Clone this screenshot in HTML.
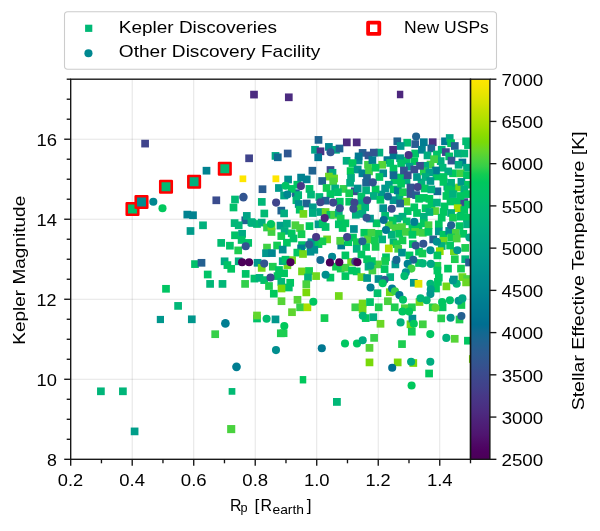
<!DOCTYPE html>
<html><head><meta charset="utf-8"><title>plot</title>
<style>html,body{margin:0;padding:0;background:#fff;}svg{display:block;will-change:transform;}text{font-family:"Liberation Sans",sans-serif;fill:#000000;}</style></head><body>
<svg width="600" height="531" viewBox="0 0 600 531">
<rect x="0" y="0" width="600" height="531" fill="#ffffff"/>
<defs><linearGradient id="cb" x1="0" y1="0" x2="0" y2="1"><stop offset="0.0000" stop-color="#ffe600"/><stop offset="0.0208" stop-color="#f4e500"/><stop offset="0.0417" stop-color="#e5e400"/><stop offset="0.0625" stop-color="#d5e300"/><stop offset="0.0833" stop-color="#c2e100"/><stop offset="0.1042" stop-color="#b1e000"/><stop offset="0.1250" stop-color="#a0de00"/><stop offset="0.1458" stop-color="#8bdc00"/><stop offset="0.1667" stop-color="#79d909"/><stop offset="0.1875" stop-color="#66d628"/><stop offset="0.2083" stop-color="#4ed33b"/><stop offset="0.2292" stop-color="#36d048"/><stop offset="0.2500" stop-color="#12cc52"/><stop offset="0.2708" stop-color="#00c85d"/><stop offset="0.2917" stop-color="#00c465"/><stop offset="0.3125" stop-color="#00c06b"/><stop offset="0.3333" stop-color="#00ba73"/><stop offset="0.3542" stop-color="#00b678"/><stop offset="0.3750" stop-color="#00b17c"/><stop offset="0.3958" stop-color="#00ac81"/><stop offset="0.4167" stop-color="#00a784"/><stop offset="0.4375" stop-color="#00a287"/><stop offset="0.4583" stop-color="#009d8a"/><stop offset="0.4792" stop-color="#00988c"/><stop offset="0.5000" stop-color="#00938d"/><stop offset="0.5208" stop-color="#008d8f"/><stop offset="0.5417" stop-color="#008990"/><stop offset="0.5625" stop-color="#008490"/><stop offset="0.5833" stop-color="#007e91"/><stop offset="0.6042" stop-color="#007991"/><stop offset="0.6250" stop-color="#007491"/><stop offset="0.6458" stop-color="#006e91"/><stop offset="0.6667" stop-color="#126991"/><stop offset="0.6875" stop-color="#1d6491"/><stop offset="0.7083" stop-color="#275e91"/><stop offset="0.7292" stop-color="#2e5990"/><stop offset="0.7500" stop-color="#34538f"/><stop offset="0.7708" stop-color="#3a4c8e"/><stop offset="0.7917" stop-color="#3e468c"/><stop offset="0.8125" stop-color="#42408a"/><stop offset="0.8333" stop-color="#473887"/><stop offset="0.8542" stop-color="#493284"/><stop offset="0.8750" stop-color="#4c2b80"/><stop offset="0.8958" stop-color="#4d237a"/><stop offset="0.9167" stop-color="#4e1c75"/><stop offset="0.9375" stop-color="#4f146f"/><stop offset="0.9583" stop-color="#4e0966"/><stop offset="0.9792" stop-color="#4d005f"/><stop offset="1.0000" stop-color="#4b0057"/></linearGradient>
<clipPath id="ax"><rect x="70.7" y="79.2" width="399.8" height="380.1"/></clipPath></defs>
<g stroke="#000000" stroke-opacity="0.105" stroke-width="1"><line x1="132.21" y1="79.2" x2="132.21" y2="459.3"/><line x1="193.72" y1="79.2" x2="193.72" y2="459.3"/><line x1="255.22" y1="79.2" x2="255.22" y2="459.3"/><line x1="316.73" y1="79.2" x2="316.73" y2="459.3"/><line x1="378.24" y1="79.2" x2="378.24" y2="459.3"/><line x1="439.75" y1="79.2" x2="439.75" y2="459.3"/><line x1="70.7" y1="379.28" x2="470.5" y2="379.28"/><line x1="70.7" y1="299.26" x2="470.5" y2="299.26"/><line x1="70.7" y1="219.24" x2="470.5" y2="219.24"/><line x1="70.7" y1="139.22" x2="470.5" y2="139.22"/></g>
<g clip-path="url(#ax)">
<rect x="396.65" y="173.65" width="7.7" height="7.7" fill="#00c660"/>
<rect x="391.65" y="223.65" width="7.7" height="7.7" fill="#49d23e"/>
<rect x="389.65" y="151.65" width="7.7" height="7.7" fill="#007891"/>
<rect x="402.65" y="156.65" width="7.7" height="7.7" fill="#00c366"/>
<rect x="426.65" y="160.65" width="7.7" height="7.7" fill="#40d143"/>
<rect x="432.65" y="172.65" width="7.7" height="7.7" fill="#00c660"/>
<rect x="390.65" y="176.65" width="7.7" height="7.7" fill="#00c660"/>
<rect x="402.65" y="176.65" width="7.7" height="7.7" fill="#00b17c"/>
<rect x="417.65" y="178.65" width="7.7" height="7.7" fill="#00b17c"/>
<rect x="449.65" y="184.65" width="7.7" height="7.7" fill="#00c660"/>
<rect x="377.65" y="190.65" width="7.7" height="7.7" fill="#00978c"/>
<rect x="395.65" y="193.65" width="7.7" height="7.7" fill="#00b17c"/>
<rect x="446.65" y="197.65" width="7.7" height="7.7" fill="#00c660"/>
<rect x="427.65" y="200.65" width="7.7" height="7.7" fill="#00c660"/>
<rect x="414.65" y="222.65" width="7.7" height="7.7" fill="#00c660"/>
<rect x="241.45" y="216.45" width="7.7" height="7.7" fill="#246091"/>
<rect x="191.15" y="260.25" width="7.7" height="7.7" fill="#00c06a"/>
<rect x="220.75" y="257.45" width="7.7" height="7.7" fill="#00aa82"/>
<rect x="234.85" y="257.45" width="7.7" height="7.7" fill="#00b17c"/>
<rect x="253.15" y="314.65" width="7.7" height="7.7" fill="#00c267"/>
<rect x="271.65" y="152.05" width="7.7" height="7.7" fill="#00a784"/>
<rect x="311.15" y="145.95" width="7.7" height="7.7" fill="#00a486"/>
<rect x="332.15" y="145.95" width="7.7" height="7.7" fill="#00ad80"/>
<rect x="354.75" y="156.65" width="7.7" height="7.7" fill="#00918e"/>
<rect x="326.65" y="166.15" width="7.7" height="7.7" fill="#3e478d"/>
<rect x="293.45" y="180.85" width="7.7" height="7.7" fill="#00c660"/>
<rect x="280.25" y="191.65" width="7.7" height="7.7" fill="#00a784"/>
<rect x="292.05" y="189.35" width="7.7" height="7.7" fill="#1f6391"/>
<rect x="277.45" y="206.75" width="7.7" height="7.7" fill="#1f6391"/>
<rect x="350.95" y="187.45" width="7.7" height="7.7" fill="#3a4c8e"/>
<rect x="335.95" y="197.85" width="7.7" height="7.7" fill="#00c660"/>
<rect x="443.45" y="182.75" width="7.7" height="7.7" fill="#00978c"/>
<rect x="453.85" y="197.85" width="7.7" height="7.7" fill="#00c660"/>
<rect x="457.55" y="205.35" width="7.7" height="7.7" fill="#00978c"/>
<rect x="307.55" y="238.35" width="7.7" height="7.7" fill="#00978c"/>
<rect x="288.25" y="256.25" width="7.7" height="7.7" fill="#71d819"/>
<rect x="283.55" y="261.45" width="7.7" height="7.7" fill="#6ed81f"/>
<rect x="337.35" y="241.65" width="7.7" height="7.7" fill="#007d91"/>
<rect x="347.25" y="258.15" width="7.7" height="7.7" fill="#6ed81f"/>
<rect x="326.55" y="273.75" width="7.7" height="7.7" fill="#00c660"/>
<rect x="408.95" y="240.25" width="7.7" height="7.7" fill="#00c660"/>
<rect x="391.55" y="260.55" width="7.7" height="7.7" fill="#00978c"/>
<rect x="450.05" y="247.35" width="7.7" height="7.7" fill="#6ed81f"/>
<rect x="361.85" y="314.25" width="7.7" height="7.7" fill="#00c85b"/>
<rect x="385.95" y="288.35" width="7.7" height="7.7" fill="#71d819"/>
<rect x="400.95" y="304.35" width="7.7" height="7.7" fill="#49d23e"/>
<rect x="415.65" y="298.15" width="7.7" height="7.7" fill="#71d819"/>
<rect x="406.65" y="320.45" width="7.7" height="7.7" fill="#71d819"/>
<rect x="432.15" y="284.65" width="7.7" height="7.7" fill="#00c660"/>
<rect x="455.65" y="315.65" width="7.7" height="7.7" fill="#1ccd50"/>
<rect x="409.45" y="359.15" width="7.7" height="7.7" fill="#79d909"/>
<rect x="141.25" y="139.75" width="7.7" height="7.7" fill="#40448c"/>
<rect x="162.15" y="284.95" width="7.7" height="7.7" fill="#00c563"/>
<rect x="156.80" y="315.90" width="7.2" height="7.2" fill="#00978c"/>
<rect x="97.05" y="387.45" width="7.7" height="7.7" fill="#00b579"/>
<rect x="119.05" y="387.45" width="7.7" height="7.7" fill="#00b579"/>
<rect x="130.75" y="427.55" width="7.7" height="7.7" fill="#009e89"/>
<rect x="250.15" y="90.75" width="7.7" height="7.7" fill="#4c2b80"/>
<rect x="245.25" y="154.45" width="7.7" height="7.7" fill="#40448c"/>
<rect x="202.65" y="166.85" width="7.7" height="7.7" fill="#008290"/>
<rect x="239.55" y="175.45" width="6.7" height="6.7" fill="#ffe600"/>
<rect x="258.65" y="185.35" width="7.7" height="7.7" fill="#2a5c91"/>
<rect x="212.45" y="196.45" width="7.7" height="7.7" fill="#3a4c8e"/>
<rect x="231.15" y="195.65" width="7.7" height="7.7" fill="#00ba73"/>
<rect x="229.65" y="203.65" width="7.7" height="7.7" fill="#00c06a"/>
<rect x="257.95" y="198.05" width="7.7" height="7.7" fill="#00b777"/>
<rect x="183.45" y="210.75" width="7.7" height="7.7" fill="#008290"/>
<rect x="189.15" y="211.35" width="7.7" height="7.7" fill="#008290"/>
<rect x="199.15" y="221.45" width="7.7" height="7.7" fill="#00b17c"/>
<rect x="186.65" y="227.15" width="7.7" height="7.7" fill="#009c8a"/>
<rect x="260.45" y="209.65" width="7.7" height="7.7" fill="#00ba73"/>
<rect x="242.95" y="212.05" width="7.7" height="7.7" fill="#00a486"/>
<rect x="230.75" y="219.25" width="7.7" height="7.7" fill="#00b777"/>
<rect x="234.85" y="221.45" width="7.7" height="7.7" fill="#00b777"/>
<rect x="247.55" y="218.25" width="7.7" height="7.7" fill="#00b17c"/>
<rect x="253.15" y="220.15" width="7.7" height="7.7" fill="#00bc70"/>
<rect x="257.85" y="218.75" width="7.7" height="7.7" fill="#00ad80"/>
<rect x="263.15" y="223.65" width="7.7" height="7.7" fill="#31cf4a"/>
<rect x="267.65" y="228.15" width="7.7" height="7.7" fill="#40d143"/>
<rect x="231.15" y="231.45" width="7.7" height="7.7" fill="#00c267"/>
<rect x="238.25" y="229.95" width="7.7" height="7.7" fill="#00aa82"/>
<rect x="237.75" y="236.15" width="7.7" height="7.7" fill="#00c267"/>
<rect x="244.35" y="239.05" width="7.7" height="7.7" fill="#00c267"/>
<rect x="217.35" y="239.05" width="7.7" height="7.7" fill="#00bc70"/>
<rect x="226.05" y="241.85" width="7.7" height="7.7" fill="#00c366"/>
<rect x="234.35" y="246.55" width="7.7" height="7.7" fill="#1ccd50"/>
<rect x="263.15" y="243.75" width="7.7" height="7.7" fill="#40d143"/>
<rect x="262.15" y="249.35" width="7.7" height="7.7" fill="#00978c"/>
<rect x="197.65" y="258.95" width="7.7" height="7.7" fill="#246091"/>
<rect x="223.55" y="261.25" width="7.7" height="7.7" fill="#00c267"/>
<rect x="227.35" y="264.95" width="7.7" height="7.7" fill="#00c660"/>
<rect x="241.85" y="270.05" width="7.7" height="7.7" fill="#00c366"/>
<rect x="253.75" y="258.95" width="7.7" height="7.7" fill="#00978c"/>
<rect x="257.85" y="264.05" width="7.7" height="7.7" fill="#71d819"/>
<rect x="203.85" y="270.65" width="7.7" height="7.7" fill="#00c366"/>
<rect x="206.25" y="280.05" width="7.7" height="7.7" fill="#00b777"/>
<rect x="218.65" y="280.05" width="7.7" height="7.7" fill="#00b777"/>
<rect x="241.25" y="280.05" width="7.7" height="7.7" fill="#31cf4a"/>
<rect x="250.55" y="274.75" width="7.7" height="7.7" fill="#00c06a"/>
<rect x="255.65" y="274.05" width="7.7" height="7.7" fill="#00b17c"/>
<rect x="260.35" y="276.25" width="7.7" height="7.7" fill="#00c06a"/>
<rect x="174.25" y="302.05" width="7.7" height="7.7" fill="#00b777"/>
<rect x="187.95" y="315.45" width="7.7" height="7.7" fill="#00978c"/>
<rect x="211.35" y="330.35" width="7.7" height="7.7" fill="#36d048"/>
<rect x="253.15" y="311.65" width="7.7" height="7.7" fill="#62d62c"/>
<rect x="228.65" y="388.05" width="6.7" height="6.7" fill="#00ba73"/>
<rect x="227.15" y="425.05" width="8.1" height="8.1" fill="#49d23e"/>
<rect x="284.95" y="93.45" width="7.7" height="7.7" fill="#4c2b80"/>
<rect x="396.90" y="90.75" width="6.4" height="7.5" fill="#4d277d"/>
<rect x="273.95" y="153.45" width="7.7" height="7.7" fill="#126991"/>
<rect x="283.85" y="149.65" width="7.7" height="7.7" fill="#2f5790"/>
<rect x="308.55" y="166.85" width="7.7" height="7.7" fill="#1f6391"/>
<rect x="272.50" y="175.40" width="6.8" height="6.8" fill="#ffe600"/>
<rect x="284.25" y="175.65" width="7.7" height="7.7" fill="#008e8e"/>
<rect x="297.25" y="173.75" width="7.7" height="7.7" fill="#008290"/>
<rect x="302.85" y="175.55" width="7.7" height="7.7" fill="#008290"/>
<rect x="314.65" y="136.05" width="7.7" height="7.7" fill="#1f6391"/>
<rect x="316.65" y="147.45" width="7.7" height="7.7" fill="#493385"/>
<rect x="314.35" y="153.45" width="7.7" height="7.7" fill="#007891"/>
<rect x="342.95" y="138.55" width="7.7" height="7.7" fill="#4c2b80"/>
<rect x="352.85" y="138.55" width="7.7" height="7.7" fill="#4c2b80"/>
<rect x="325.05" y="143.05" width="7.7" height="7.7" fill="#008790"/>
<rect x="335.65" y="144.65" width="7.7" height="7.7" fill="#1f6391"/>
<rect x="358.75" y="149.05" width="7.7" height="7.7" fill="#246091"/>
<rect x="354.75" y="152.55" width="7.7" height="7.7" fill="#007891"/>
<rect x="364.65" y="151.55" width="7.7" height="7.7" fill="#325490"/>
<rect x="342.75" y="156.95" width="7.7" height="7.7" fill="#00ad80"/>
<rect x="348.65" y="159.25" width="7.7" height="7.7" fill="#00c85b"/>
<rect x="364.15" y="160.95" width="7.7" height="7.7" fill="#40d143"/>
<rect x="346.75" y="167.25" width="7.7" height="7.7" fill="#00cb56"/>
<rect x="353.85" y="165.65" width="7.7" height="7.7" fill="#00978c"/>
<rect x="358.55" y="169.45" width="7.7" height="7.7" fill="#008091"/>
<rect x="365.15" y="167.55" width="7.7" height="7.7" fill="#40d143"/>
<rect x="363.15" y="174.15" width="7.7" height="7.7" fill="#1f6391"/>
<rect x="347.15" y="174.15" width="7.7" height="7.7" fill="#00ad80"/>
<rect x="328.65" y="168.95" width="7.7" height="7.7" fill="#00ad80"/>
<rect x="325.05" y="172.75" width="7.7" height="7.7" fill="#6ad724"/>
<rect x="330.25" y="174.65" width="7.7" height="7.7" fill="#6ad724"/>
<rect x="318.35" y="177.15" width="7.7" height="7.7" fill="#1f6391"/>
<rect x="393.45" y="137.45" width="7.7" height="7.7" fill="#1f6391"/>
<rect x="403.35" y="138.85" width="7.7" height="7.7" fill="#00bc70"/>
<rect x="411.35" y="140.25" width="7.7" height="7.7" fill="#2b5b91"/>
<rect x="396.75" y="142.15" width="7.7" height="7.7" fill="#00978c"/>
<rect x="389.25" y="145.95" width="7.7" height="7.7" fill="#4b2e82"/>
<rect x="375.55" y="148.75" width="7.7" height="7.7" fill="#00b17c"/>
<rect x="369.95" y="148.75" width="7.7" height="7.7" fill="#325490"/>
<rect x="411.35" y="149.65" width="7.7" height="7.7" fill="#00c366"/>
<rect x="396.25" y="154.35" width="7.7" height="7.7" fill="#00978c"/>
<rect x="368.55" y="156.25" width="7.7" height="7.7" fill="#007d91"/>
<rect x="383.55" y="156.25" width="7.7" height="7.7" fill="#007891"/>
<rect x="386.35" y="159.15" width="7.7" height="7.7" fill="#00c06a"/>
<rect x="397.25" y="159.55" width="7.7" height="7.7" fill="#00c366"/>
<rect x="410.45" y="157.25" width="7.7" height="7.7" fill="#00c85b"/>
<rect x="378.35" y="160.95" width="7.7" height="7.7" fill="#56d436"/>
<rect x="371.75" y="163.85" width="7.7" height="7.7" fill="#00c85b"/>
<rect x="389.65" y="164.75" width="7.7" height="7.7" fill="#00c660"/>
<rect x="405.65" y="162.85" width="7.7" height="7.7" fill="#00a188"/>
<rect x="400.05" y="166.65" width="7.7" height="7.7" fill="#325490"/>
<rect x="410.45" y="165.65" width="7.7" height="7.7" fill="#3a4c8e"/>
<rect x="379.35" y="169.45" width="7.7" height="7.7" fill="#008e8e"/>
<rect x="389.65" y="171.35" width="7.7" height="7.7" fill="#126991"/>
<rect x="403.85" y="171.35" width="7.7" height="7.7" fill="#3a4c8e"/>
<rect x="375.55" y="173.15" width="7.7" height="7.7" fill="#00c660"/>
<rect x="413.15" y="173.15" width="7.7" height="7.7" fill="#00978c"/>
<rect x="419.95" y="138.35" width="7.7" height="7.7" fill="#007d91"/>
<rect x="428.85" y="138.35" width="7.7" height="7.7" fill="#4b2e82"/>
<rect x="441.15" y="137.45" width="7.7" height="7.7" fill="#007891"/>
<rect x="445.85" y="134.15" width="7.7" height="7.7" fill="#00a784"/>
<rect x="447.25" y="139.35" width="7.7" height="7.7" fill="#00c85b"/>
<rect x="450.95" y="142.15" width="7.7" height="7.7" fill="#246091"/>
<rect x="462.25" y="137.45" width="7.7" height="7.7" fill="#00bc70"/>
<rect x="464.15" y="141.25" width="7.7" height="7.7" fill="#00bc70"/>
<rect x="427.45" y="144.55" width="7.7" height="7.7" fill="#1f6391"/>
<rect x="418.05" y="145.95" width="7.7" height="7.7" fill="#008290"/>
<rect x="437.85" y="145.95" width="7.7" height="7.7" fill="#00b777"/>
<rect x="442.05" y="148.25" width="7.7" height="7.7" fill="#3e478d"/>
<rect x="423.65" y="151.55" width="7.7" height="7.7" fill="#00ad80"/>
<rect x="433.05" y="150.65" width="7.7" height="7.7" fill="#00c366"/>
<rect x="453.85" y="149.65" width="7.7" height="7.7" fill="#00ad80"/>
<rect x="460.45" y="149.65" width="7.7" height="7.7" fill="#00b777"/>
<rect x="445.35" y="152.55" width="7.7" height="7.7" fill="#00c267"/>
<rect x="447.65" y="156.75" width="7.7" height="7.7" fill="#325490"/>
<rect x="458.55" y="158.65" width="7.7" height="7.7" fill="#007891"/>
<rect x="436.85" y="157.25" width="7.7" height="7.7" fill="#00b17c"/>
<rect x="430.25" y="155.35" width="7.7" height="7.7" fill="#40d143"/>
<rect x="421.35" y="161.95" width="7.7" height="7.7" fill="#00ad80"/>
<rect x="438.75" y="163.85" width="7.7" height="7.7" fill="#00b777"/>
<rect x="454.75" y="160.95" width="7.7" height="7.7" fill="#00ad80"/>
<rect x="463.15" y="163.85" width="7.7" height="7.7" fill="#00ad80"/>
<rect x="432.15" y="166.65" width="7.7" height="7.7" fill="#007d91"/>
<rect x="419.95" y="167.55" width="7.7" height="7.7" fill="#24ce4e"/>
<rect x="425.55" y="168.55" width="7.7" height="7.7" fill="#00a188"/>
<rect x="449.15" y="169.45" width="7.7" height="7.7" fill="#00c85b"/>
<rect x="456.65" y="169.45" width="7.7" height="7.7" fill="#40d143"/>
<rect x="444.35" y="167.55" width="7.7" height="7.7" fill="#00ad80"/>
<rect x="463.15" y="171.35" width="7.7" height="7.7" fill="#00c660"/>
<rect x="421.75" y="173.15" width="7.7" height="7.7" fill="#00ad80"/>
<rect x="439.65" y="173.15" width="7.7" height="7.7" fill="#00c660"/>
<rect x="416.15" y="161.95" width="7.7" height="7.7" fill="#3a4c8e"/>
<rect x="275.05" y="184.15" width="7.7" height="7.7" fill="#009c8a"/>
<rect x="287.85" y="185.05" width="7.7" height="7.7" fill="#00c660"/>
<rect x="305.65" y="185.05" width="7.7" height="7.7" fill="#00c267"/>
<rect x="307.15" y="190.75" width="7.7" height="7.7" fill="#00b777"/>
<rect x="294.35" y="191.25" width="7.7" height="7.7" fill="#00b777"/>
<rect x="292.55" y="196.35" width="7.7" height="7.7" fill="#00b777"/>
<rect x="294.85" y="200.15" width="7.7" height="7.7" fill="#008e8e"/>
<rect x="302.85" y="199.65" width="7.7" height="7.7" fill="#1f6391"/>
<rect x="308.95" y="203.45" width="7.7" height="7.7" fill="#009c8a"/>
<rect x="295.85" y="205.85" width="7.7" height="7.7" fill="#00c267"/>
<rect x="299.55" y="210.05" width="7.7" height="7.7" fill="#71d819"/>
<rect x="308.95" y="209.15" width="7.7" height="7.7" fill="#00ad80"/>
<rect x="316.65" y="208.15" width="7.7" height="7.7" fill="#00a784"/>
<rect x="280.25" y="209.55" width="7.7" height="7.7" fill="#00ad80"/>
<rect x="276.65" y="221.75" width="7.7" height="7.7" fill="#009e89"/>
<rect x="283.05" y="219.75" width="7.7" height="7.7" fill="#00ad80"/>
<rect x="291.55" y="221.35" width="7.7" height="7.7" fill="#49d23e"/>
<rect x="296.15" y="224.15" width="7.7" height="7.7" fill="#49d23e"/>
<rect x="305.65" y="222.25" width="7.7" height="7.7" fill="#00c660"/>
<rect x="314.65" y="220.45" width="7.7" height="7.7" fill="#009c8a"/>
<rect x="315.55" y="193.15" width="7.7" height="7.7" fill="#00b777"/>
<rect x="248.45" y="219.15" width="7.7" height="7.7" fill="#00b17c"/>
<rect x="329.35" y="177.55" width="7.7" height="7.7" fill="#49d23e"/>
<rect x="322.75" y="184.15" width="7.7" height="7.7" fill="#12cc52"/>
<rect x="331.25" y="184.65" width="7.7" height="7.7" fill="#00ad80"/>
<rect x="339.65" y="185.05" width="7.7" height="7.7" fill="#31cf4a"/>
<rect x="346.25" y="178.95" width="7.7" height="7.7" fill="#00ad80"/>
<rect x="353.85" y="184.65" width="7.7" height="7.7" fill="#00918e"/>
<rect x="362.25" y="178.95" width="7.7" height="7.7" fill="#1f6391"/>
<rect x="362.25" y="186.55" width="7.7" height="7.7" fill="#00b17c"/>
<rect x="326.55" y="190.25" width="7.7" height="7.7" fill="#00c660"/>
<rect x="334.05" y="188.35" width="7.7" height="7.7" fill="#00c366"/>
<rect x="345.35" y="189.35" width="7.7" height="7.7" fill="#12cc52"/>
<rect x="357.55" y="192.65" width="7.7" height="7.7" fill="#00c267"/>
<rect x="321.75" y="196.85" width="7.7" height="7.7" fill="#1f6391"/>
<rect x="357.55" y="199.65" width="7.7" height="7.7" fill="#00ad80"/>
<rect x="345.35" y="197.85" width="7.7" height="7.7" fill="#00c660"/>
<rect x="355.65" y="204.35" width="7.7" height="7.7" fill="#40d143"/>
<rect x="361.35" y="203.45" width="7.7" height="7.7" fill="#00b17c"/>
<rect x="321.75" y="208.15" width="7.7" height="7.7" fill="#6ad724"/>
<rect x="326.55" y="210.95" width="7.7" height="7.7" fill="#00c267"/>
<rect x="330.25" y="210.95" width="7.7" height="7.7" fill="#40d143"/>
<rect x="334.95" y="209.15" width="7.7" height="7.7" fill="#00b17c"/>
<rect x="351.95" y="210.95" width="7.7" height="7.7" fill="#00b17c"/>
<rect x="358.55" y="210.05" width="7.7" height="7.7" fill="#00ad80"/>
<rect x="336.85" y="214.75" width="7.7" height="7.7" fill="#12cc52"/>
<rect x="334.95" y="220.45" width="7.7" height="7.7" fill="#00c267"/>
<rect x="341.55" y="219.45" width="7.7" height="7.7" fill="#00c660"/>
<rect x="318.95" y="219.45" width="7.7" height="7.7" fill="#00c267"/>
<rect x="321.75" y="223.15" width="7.7" height="7.7" fill="#00c267"/>
<rect x="350.05" y="225.15" width="7.7" height="7.7" fill="#008e8e"/>
<rect x="338.75" y="224.15" width="7.7" height="7.7" fill="#00c660"/>
<rect x="371.75" y="185.55" width="7.7" height="7.7" fill="#00c85b"/>
<rect x="369.95" y="192.15" width="7.7" height="7.7" fill="#00ad80"/>
<rect x="376.55" y="195.95" width="7.7" height="7.7" fill="#00c660"/>
<rect x="381.25" y="184.65" width="7.7" height="7.7" fill="#00978c"/>
<rect x="384.95" y="180.85" width="7.7" height="7.7" fill="#009c8a"/>
<rect x="389.65" y="185.55" width="7.7" height="7.7" fill="#00c660"/>
<rect x="393.95" y="186.55" width="7.7" height="7.7" fill="#008091"/>
<rect x="397.25" y="179.95" width="7.7" height="7.7" fill="#00c85b"/>
<rect x="399.15" y="188.35" width="7.7" height="7.7" fill="#12cc52"/>
<rect x="406.65" y="183.65" width="7.7" height="7.7" fill="#325490"/>
<rect x="406.65" y="190.25" width="7.7" height="7.7" fill="#325490"/>
<rect x="412.25" y="191.25" width="7.7" height="7.7" fill="#2a5c91"/>
<rect x="415.15" y="194.95" width="7.7" height="7.7" fill="#00c660"/>
<rect x="389.65" y="196.35" width="7.7" height="7.7" fill="#00978c"/>
<rect x="402.45" y="197.85" width="7.7" height="7.7" fill="#6ad724"/>
<rect x="396.25" y="199.65" width="7.7" height="7.7" fill="#1f6391"/>
<rect x="379.35" y="204.35" width="7.7" height="7.7" fill="#00918e"/>
<rect x="410.45" y="203.45" width="7.7" height="7.7" fill="#00c660"/>
<rect x="403.85" y="207.25" width="7.7" height="7.7" fill="#00c366"/>
<rect x="398.65" y="212.85" width="7.7" height="7.7" fill="#00b17c"/>
<rect x="393.45" y="214.75" width="7.7" height="7.7" fill="#00ad80"/>
<rect x="381.25" y="211.95" width="7.7" height="7.7" fill="#00bc70"/>
<rect x="388.75" y="216.65" width="7.7" height="7.7" fill="#00c660"/>
<rect x="372.75" y="219.45" width="7.7" height="7.7" fill="#00c660"/>
<rect x="366.15" y="214.75" width="7.7" height="7.7" fill="#00978c"/>
<rect x="402.85" y="217.55" width="7.7" height="7.7" fill="#00c267"/>
<rect x="398.15" y="223.25" width="7.7" height="7.7" fill="#49d23e"/>
<rect x="384.95" y="221.35" width="7.7" height="7.7" fill="#49d23e"/>
<rect x="408.55" y="224.15" width="7.7" height="7.7" fill="#00c660"/>
<rect x="413.15" y="209.15" width="7.7" height="7.7" fill="#00c660"/>
<rect x="433.55" y="187.45" width="7.7" height="7.7" fill="#126991"/>
<rect x="455.25" y="183.65" width="7.7" height="7.7" fill="#71d819"/>
<rect x="460.45" y="198.25" width="7.7" height="7.7" fill="#3a4c8e"/>
<rect x="453.85" y="204.35" width="7.7" height="7.7" fill="#a0de00"/>
<rect x="431.25" y="207.25" width="7.7" height="7.7" fill="#56d436"/>
<rect x="426.55" y="177.15" width="7.7" height="7.7" fill="#00978c"/>
<rect x="439.65" y="178.05" width="7.7" height="7.7" fill="#00c660"/>
<rect x="447.25" y="178.95" width="7.7" height="7.7" fill="#00b17c"/>
<rect x="457.55" y="178.05" width="7.7" height="7.7" fill="#00978c"/>
<rect x="464.15" y="180.85" width="7.7" height="7.7" fill="#00c660"/>
<rect x="420.85" y="184.65" width="7.7" height="7.7" fill="#00c660"/>
<rect x="427.45" y="185.55" width="7.7" height="7.7" fill="#00b17c"/>
<rect x="444.35" y="185.55" width="7.7" height="7.7" fill="#00c660"/>
<rect x="460.45" y="185.55" width="7.7" height="7.7" fill="#00b17c"/>
<rect x="419.95" y="194.05" width="7.7" height="7.7" fill="#00c660"/>
<rect x="425.55" y="194.95" width="7.7" height="7.7" fill="#00c85b"/>
<rect x="442.55" y="192.15" width="7.7" height="7.7" fill="#00c660"/>
<rect x="449.15" y="190.25" width="7.7" height="7.7" fill="#00b17c"/>
<rect x="456.65" y="192.15" width="7.7" height="7.7" fill="#00c660"/>
<rect x="463.25" y="190.25" width="7.7" height="7.7" fill="#00c660"/>
<rect x="433.05" y="198.75" width="7.7" height="7.7" fill="#00b17c"/>
<rect x="440.65" y="202.55" width="7.7" height="7.7" fill="#00c660"/>
<rect x="464.15" y="200.65" width="7.7" height="7.7" fill="#00c660"/>
<rect x="421.75" y="204.35" width="7.7" height="7.7" fill="#00c660"/>
<rect x="425.55" y="208.15" width="7.7" height="7.7" fill="#00b17c"/>
<rect x="439.65" y="208.15" width="7.7" height="7.7" fill="#00c660"/>
<rect x="447.25" y="209.15" width="7.7" height="7.7" fill="#00b17c"/>
<rect x="460.45" y="206.25" width="7.7" height="7.7" fill="#00c660"/>
<rect x="419.95" y="212.85" width="7.7" height="7.7" fill="#00b17c"/>
<rect x="437.85" y="213.85" width="7.7" height="7.7" fill="#00c660"/>
<rect x="449.15" y="213.85" width="7.7" height="7.7" fill="#12cc52"/>
<rect x="456.65" y="212.85" width="7.7" height="7.7" fill="#00c660"/>
<rect x="463.15" y="213.85" width="7.7" height="7.7" fill="#00c660"/>
<rect x="419.95" y="219.45" width="7.7" height="7.7" fill="#00c660"/>
<rect x="424.65" y="221.35" width="7.7" height="7.7" fill="#40d143"/>
<rect x="434.95" y="220.45" width="7.7" height="7.7" fill="#00c660"/>
<rect x="455.65" y="222.25" width="7.7" height="7.7" fill="#00c660"/>
<rect x="463.15" y="220.45" width="7.7" height="7.7" fill="#00b17c"/>
<rect x="280.75" y="227.05" width="7.7" height="7.7" fill="#00ad80"/>
<rect x="277.45" y="232.25" width="7.7" height="7.7" fill="#12cc52"/>
<rect x="287.85" y="229.45" width="7.7" height="7.7" fill="#00c660"/>
<rect x="289.65" y="234.65" width="7.7" height="7.7" fill="#00c267"/>
<rect x="297.65" y="230.35" width="7.7" height="7.7" fill="#12cc52"/>
<rect x="283.05" y="238.85" width="7.7" height="7.7" fill="#00c660"/>
<rect x="273.25" y="241.65" width="7.7" height="7.7" fill="#12cc52"/>
<rect x="278.85" y="245.75" width="7.7" height="7.7" fill="#008e8e"/>
<rect x="268.05" y="249.25" width="7.7" height="7.7" fill="#008790"/>
<rect x="298.15" y="241.25" width="7.7" height="7.7" fill="#00c267"/>
<rect x="314.65" y="240.25" width="7.7" height="7.7" fill="#00c660"/>
<rect x="297.25" y="244.55" width="7.7" height="7.7" fill="#007d91"/>
<rect x="306.65" y="247.85" width="7.7" height="7.7" fill="#00918e"/>
<rect x="310.45" y="245.95" width="7.7" height="7.7" fill="#00918e"/>
<rect x="293.45" y="248.75" width="7.7" height="7.7" fill="#00c660"/>
<rect x="299.15" y="250.15" width="7.7" height="7.7" fill="#71d819"/>
<rect x="278.85" y="257.25" width="7.7" height="7.7" fill="#00ad80"/>
<rect x="281.65" y="255.85" width="7.7" height="7.7" fill="#00c267"/>
<rect x="268.95" y="262.85" width="7.7" height="7.7" fill="#1ccd50"/>
<rect x="275.15" y="266.15" width="7.7" height="7.7" fill="#00c660"/>
<rect x="280.25" y="269.45" width="7.7" height="7.7" fill="#00c660"/>
<rect x="273.65" y="272.25" width="7.7" height="7.7" fill="#00c660"/>
<rect x="298.15" y="267.55" width="7.7" height="7.7" fill="#71d819"/>
<rect x="305.25" y="267.15" width="7.7" height="7.7" fill="#12cc52"/>
<rect x="304.15" y="273.65" width="7.7" height="7.7" fill="#00b17c"/>
<rect x="312.25" y="272.25" width="7.7" height="7.7" fill="#6ed81f"/>
<rect x="360.45" y="228.95" width="7.7" height="7.7" fill="#00c85b"/>
<rect x="323.25" y="235.55" width="7.7" height="7.7" fill="#6ed81f"/>
<rect x="318.55" y="237.45" width="7.7" height="7.7" fill="#12cc52"/>
<rect x="336.35" y="236.95" width="7.7" height="7.7" fill="#49d23e"/>
<rect x="344.35" y="238.35" width="7.7" height="7.7" fill="#00c660"/>
<rect x="349.15" y="233.65" width="7.7" height="7.7" fill="#00c660"/>
<rect x="352.85" y="238.35" width="7.7" height="7.7" fill="#12cc52"/>
<rect x="364.15" y="235.55" width="7.7" height="7.7" fill="#56d436"/>
<rect x="352.85" y="244.95" width="7.7" height="7.7" fill="#00b17c"/>
<rect x="362.25" y="243.15" width="7.7" height="7.7" fill="#00c660"/>
<rect x="341.55" y="251.55" width="7.7" height="7.7" fill="#00c660"/>
<rect x="357.55" y="250.65" width="7.7" height="7.7" fill="#00c660"/>
<rect x="363.25" y="255.35" width="7.7" height="7.7" fill="#00c660"/>
<rect x="364.65" y="262.85" width="7.7" height="7.7" fill="#00b17c"/>
<rect x="332.15" y="262.85" width="7.7" height="7.7" fill="#12cc52"/>
<rect x="336.85" y="264.75" width="7.7" height="7.7" fill="#12cc52"/>
<rect x="341.55" y="263.85" width="7.7" height="7.7" fill="#40d143"/>
<rect x="348.15" y="266.65" width="7.7" height="7.7" fill="#00c660"/>
<rect x="352.85" y="267.55" width="7.7" height="7.7" fill="#00c660"/>
<rect x="341.55" y="272.25" width="7.7" height="7.7" fill="#00c660"/>
<rect x="357.55" y="273.25" width="7.7" height="7.7" fill="#6ed81f"/>
<rect x="363.25" y="274.15" width="7.7" height="7.7" fill="#00978c"/>
<rect x="374.65" y="229.95" width="7.7" height="7.7" fill="#12cc52"/>
<rect x="367.55" y="228.95" width="7.7" height="7.7" fill="#40d143"/>
<rect x="378.35" y="235.55" width="7.7" height="7.7" fill="#00b17c"/>
<rect x="370.85" y="236.55" width="7.7" height="7.7" fill="#12cc52"/>
<rect x="371.75" y="243.05" width="7.7" height="7.7" fill="#12cc52"/>
<rect x="387.85" y="230.85" width="7.7" height="7.7" fill="#00b17c"/>
<rect x="395.35" y="229.95" width="7.7" height="7.7" fill="#00c660"/>
<rect x="401.95" y="228.05" width="7.7" height="7.7" fill="#40d143"/>
<rect x="411.35" y="228.05" width="7.7" height="7.7" fill="#49d23e"/>
<rect x="408.55" y="230.85" width="7.7" height="7.7" fill="#00c660"/>
<rect x="398.65" y="236.55" width="7.7" height="7.7" fill="#12cc52"/>
<rect x="389.65" y="238.35" width="7.7" height="7.7" fill="#00b777"/>
<rect x="392.95" y="240.25" width="7.7" height="7.7" fill="#12cc52"/>
<rect x="384.95" y="244.55" width="7.7" height="7.7" fill="#aadf00"/>
<rect x="394.35" y="244.95" width="7.7" height="7.7" fill="#40d143"/>
<rect x="398.15" y="248.75" width="7.7" height="7.7" fill="#00918e"/>
<rect x="405.65" y="251.55" width="7.7" height="7.7" fill="#00c660"/>
<rect x="415.15" y="247.85" width="7.7" height="7.7" fill="#00c660"/>
<rect x="382.15" y="253.45" width="7.7" height="7.7" fill="#00c660"/>
<rect x="381.25" y="257.25" width="7.7" height="7.7" fill="#12cc52"/>
<rect x="374.15" y="260.55" width="7.7" height="7.7" fill="#49d23e"/>
<rect x="368.05" y="257.25" width="7.7" height="7.7" fill="#00c660"/>
<rect x="380.75" y="265.25" width="7.7" height="7.7" fill="#00c660"/>
<rect x="368.55" y="266.65" width="7.7" height="7.7" fill="#40d143"/>
<rect x="415.15" y="259.15" width="7.7" height="7.7" fill="#00c660"/>
<rect x="386.35" y="273.25" width="7.7" height="7.7" fill="#00b17c"/>
<rect x="374.65" y="275.15" width="7.7" height="7.7" fill="#008e8e"/>
<rect x="418.95" y="228.95" width="7.7" height="7.7" fill="#40d143"/>
<rect x="424.65" y="228.05" width="7.7" height="7.7" fill="#00c660"/>
<rect x="434.95" y="227.55" width="7.7" height="7.7" fill="#00978c"/>
<rect x="439.65" y="230.85" width="7.7" height="7.7" fill="#00c660"/>
<rect x="445.35" y="227.05" width="7.7" height="7.7" fill="#008e8e"/>
<rect x="451.95" y="228.95" width="7.7" height="7.7" fill="#49d23e"/>
<rect x="459.45" y="229.95" width="7.7" height="7.7" fill="#00c660"/>
<rect x="447.25" y="233.65" width="7.7" height="7.7" fill="#12cc52"/>
<rect x="452.85" y="234.65" width="7.7" height="7.7" fill="#49d23e"/>
<rect x="429.35" y="235.55" width="7.7" height="7.7" fill="#1f6391"/>
<rect x="439.65" y="236.95" width="7.7" height="7.7" fill="#6ed81f"/>
<rect x="446.25" y="241.65" width="7.7" height="7.7" fill="#00c660"/>
<rect x="437.85" y="242.15" width="7.7" height="7.7" fill="#00b17c"/>
<rect x="435.95" y="247.35" width="7.7" height="7.7" fill="#95dd00"/>
<rect x="461.35" y="244.05" width="7.7" height="7.7" fill="#1ccd50"/>
<rect x="418.55" y="249.65" width="7.7" height="7.7" fill="#12cc52"/>
<rect x="433.55" y="251.55" width="7.7" height="7.7" fill="#00c660"/>
<rect x="450.95" y="255.35" width="7.7" height="7.7" fill="#1ccd50"/>
<rect x="461.35" y="255.35" width="7.7" height="7.7" fill="#00b777"/>
<rect x="465.15" y="258.65" width="7.7" height="7.7" fill="#2a5c91"/>
<rect x="433.55" y="261.95" width="7.7" height="7.7" fill="#1ccd50"/>
<rect x="433.55" y="266.65" width="7.7" height="7.7" fill="#00c660"/>
<rect x="444.15" y="264.75" width="7.7" height="7.7" fill="#00c660"/>
<rect x="457.15" y="264.75" width="7.7" height="7.7" fill="#12cc52"/>
<rect x="434.95" y="273.75" width="7.7" height="7.7" fill="#00c660"/>
<rect x="450.05" y="275.65" width="7.7" height="7.7" fill="#008e8e"/>
<rect x="458.55" y="273.25" width="7.7" height="7.7" fill="#6ed81f"/>
<rect x="463.25" y="275.15" width="7.7" height="7.7" fill="#49d23e"/>
<rect x="277.45" y="278.05" width="7.7" height="7.7" fill="#00b777"/>
<rect x="286.35" y="278.95" width="7.7" height="7.7" fill="#00c660"/>
<rect x="284.95" y="283.65" width="7.7" height="7.7" fill="#00c267"/>
<rect x="277.65" y="284.65" width="7.7" height="7.7" fill="#79d909"/>
<rect x="265.15" y="282.15" width="7.7" height="7.7" fill="#1ccd50"/>
<rect x="269.95" y="289.85" width="7.7" height="7.7" fill="#00c85b"/>
<rect x="302.45" y="280.35" width="7.7" height="7.7" fill="#49d23e"/>
<rect x="302.45" y="288.55" width="7.7" height="7.7" fill="#79d909"/>
<rect x="277.65" y="297.35" width="7.7" height="7.7" fill="#56d436"/>
<rect x="293.65" y="295.95" width="7.7" height="7.7" fill="#56d436"/>
<rect x="296.25" y="303.45" width="7.7" height="7.7" fill="#36d048"/>
<rect x="303.55" y="303.45" width="7.7" height="7.7" fill="#aadf00"/>
<rect x="288.15" y="308.35" width="7.7" height="7.7" fill="#5ed52f"/>
<rect x="271.65" y="315.55" width="7.7" height="7.7" fill="#00978c"/>
<rect x="279.75" y="329.35" width="7.7" height="7.7" fill="#1ccd50"/>
<rect x="334.95" y="292.15" width="7.7" height="7.7" fill="#71d819"/>
<rect x="351.45" y="303.45" width="7.7" height="7.7" fill="#36d048"/>
<rect x="358.75" y="299.65" width="7.7" height="7.7" fill="#71d819"/>
<rect x="358.75" y="305.35" width="7.7" height="7.7" fill="#71d819"/>
<rect x="320.65" y="314.25" width="7.7" height="7.7" fill="#12cc52"/>
<rect x="409.95" y="278.95" width="7.7" height="7.7" fill="#00978c"/>
<rect x="414.65" y="279.95" width="7.7" height="7.7" fill="#dfe300"/>
<rect x="373.65" y="289.35" width="7.7" height="7.7" fill="#00c06a"/>
<rect x="366.15" y="298.25" width="7.7" height="7.7" fill="#00c267"/>
<rect x="384.05" y="297.35" width="7.7" height="7.7" fill="#49d23e"/>
<rect x="374.85" y="303.45" width="7.7" height="7.7" fill="#1ccd50"/>
<rect x="390.85" y="303.45" width="7.7" height="7.7" fill="#1ccd50"/>
<rect x="408.05" y="303.45" width="7.7" height="7.7" fill="#1ccd50"/>
<rect x="369.45" y="313.35" width="7.7" height="7.7" fill="#00ad80"/>
<rect x="376.65" y="319.95" width="7.7" height="7.7" fill="#6ad724"/>
<rect x="408.55" y="314.75" width="7.7" height="7.7" fill="#008e8e"/>
<rect x="434.05" y="278.05" width="7.7" height="7.7" fill="#00c660"/>
<rect x="442.55" y="282.55" width="7.7" height="7.7" fill="#71d819"/>
<rect x="462.25" y="278.55" width="7.7" height="7.7" fill="#6ad724"/>
<rect x="457.55" y="301.15" width="7.7" height="7.7" fill="#12cc52"/>
<rect x="428.85" y="303.45" width="7.7" height="7.7" fill="#1ccd50"/>
<rect x="438.75" y="303.45" width="7.7" height="7.7" fill="#00c660"/>
<rect x="437.35" y="314.55" width="7.7" height="7.7" fill="#24ce4e"/>
<rect x="418.95" y="320.45" width="7.7" height="7.7" fill="#40d143"/>
<rect x="365.65" y="344.05" width="7.7" height="7.7" fill="#56d436"/>
<rect x="365.65" y="358.55" width="7.7" height="7.7" fill="#79d909"/>
<rect x="299.75" y="376.05" width="6.5" height="7.4" fill="#00c85b"/>
<rect x="333.00" y="398.00" width="7.8" height="7.8" fill="#00b777"/>
<rect x="407.95" y="327.85" width="7.7" height="7.7" fill="#12cc52"/>
<rect x="370.25" y="334.05" width="7.7" height="7.7" fill="#36d048"/>
<rect x="398.15" y="340.25" width="7.7" height="7.7" fill="#1ccd50"/>
<rect x="450.85" y="334.95" width="7.7" height="7.7" fill="#56d436"/>
<rect x="464.05" y="336.85" width="7.7" height="7.7" fill="#00c660"/>
<rect x="393.85" y="358.55" width="7.7" height="7.7" fill="#79d909"/>
<rect x="425.25" y="369.65" width="7.7" height="7.7" fill="#00c85b"/>
<rect x="276.95" y="329.45" width="7.7" height="7.7" fill="#1ccd50"/>
<rect x="468.95" y="355.15" width="7.7" height="7.7" fill="#79d909"/>
<rect x="267.65" y="222.45" width="7.7" height="7.7" fill="#6ad724"/>
<circle cx="355.30" cy="261.50" r="4.05" fill="#3e478d"/>
<circle cx="153.30" cy="201.80" r="4.05" fill="#008790"/>
<circle cx="162.50" cy="208.30" r="4.05" fill="#00c85d"/>
<circle cx="243.40" cy="197.10" r="4.3" fill="#325490"/>
<circle cx="270.90" cy="224.00" r="4.05" fill="#00c660"/>
<circle cx="245.70" cy="246.30" r="4.05" fill="#325490"/>
<circle cx="242.10" cy="262.20" r="4.05" fill="#4c0059"/>
<circle cx="249.10" cy="262.20" r="4.05" fill="#4c0059"/>
<circle cx="264.20" cy="263.60" r="4.05" fill="#325490"/>
<circle cx="225.40" cy="323.40" r="4.35" fill="#007d91"/>
<circle cx="266.60" cy="318.70" r="4.05" fill="#00be6e"/>
<circle cx="236.50" cy="366.80" r="4.35" fill="#007d91"/>
<circle cx="330.50" cy="152.30" r="4.05" fill="#325490"/>
<circle cx="416.10" cy="136.60" r="4.05" fill="#1f6391"/>
<circle cx="408.60" cy="155.00" r="4.05" fill="#493385"/>
<circle cx="285.50" cy="185.80" r="4.05" fill="#00c267"/>
<circle cx="300.90" cy="186.10" r="4.05" fill="#473787"/>
<circle cx="287.40" cy="194.60" r="4.05" fill="#008790"/>
<circle cx="276.10" cy="202.60" r="4.05" fill="#40448c"/>
<circle cx="320.30" cy="202.30" r="4.05" fill="#3e478d"/>
<circle cx="333.20" cy="202.60" r="4.05" fill="#3e478d"/>
<circle cx="339.80" cy="208.20" r="4.05" fill="#37508f"/>
<circle cx="354.40" cy="202.60" r="4.05" fill="#3e478d"/>
<circle cx="353.40" cy="208.70" r="4.05" fill="#3a4c8e"/>
<circle cx="367.10" cy="200.20" r="4.05" fill="#3e478d"/>
<circle cx="324.70" cy="218.10" r="4.05" fill="#4d277d"/>
<circle cx="366.60" cy="217.70" r="4.05" fill="#325490"/>
<circle cx="372.80" cy="182.40" r="4.05" fill="#325490"/>
<circle cx="417.60" cy="187.10" r="4.05" fill="#40448c"/>
<circle cx="387.90" cy="196.50" r="4.05" fill="#126991"/>
<circle cx="391.70" cy="208.70" r="4.05" fill="#3a4c8e"/>
<circle cx="383.70" cy="220.00" r="4.05" fill="#086c91"/>
<circle cx="414.30" cy="221.90" r="4.05" fill="#008091"/>
<circle cx="386.00" cy="230.00" r="4.05" fill="#007d91"/>
<circle cx="451.10" cy="225.20" r="4.05" fill="#1f6391"/>
<circle cx="316.10" cy="237.10" r="4.05" fill="#473787"/>
<circle cx="309.10" cy="244.60" r="4.05" fill="#2a5c91"/>
<circle cx="290.50" cy="262.20" r="4.05" fill="#4c0059"/>
<circle cx="320.40" cy="260.00" r="4.05" fill="#126991"/>
<circle cx="270.50" cy="277.50" r="4.05" fill="#3e478d"/>
<circle cx="347.10" cy="237.10" r="4.05" fill="#40448c"/>
<circle cx="362.40" cy="241.30" r="4.05" fill="#246091"/>
<circle cx="332.10" cy="256.80" r="4.05" fill="#008790"/>
<circle cx="329.90" cy="262.50" r="4.05" fill="#4c0059"/>
<circle cx="339.30" cy="262.30" r="4.05" fill="#4c0059"/>
<circle cx="357.40" cy="262.30" r="4.05" fill="#4c0059"/>
<circle cx="325.60" cy="274.70" r="4.05" fill="#008e8e"/>
<circle cx="415.70" cy="245.50" r="4.05" fill="#325490"/>
<circle cx="396.40" cy="259.90" r="4.05" fill="#176791"/>
<circle cx="413.30" cy="259.70" r="4.05" fill="#1f6391"/>
<circle cx="407.70" cy="263.90" r="4.05" fill="#008091"/>
<circle cx="370.50" cy="265.80" r="4.05" fill="#00a784"/>
<circle cx="411.40" cy="268.60" r="4.05" fill="#40d143"/>
<circle cx="405.80" cy="272.40" r="4.05" fill="#00978c"/>
<circle cx="404.40" cy="276.10" r="4.05" fill="#00bc70"/>
<circle cx="384.60" cy="279.80" r="4.05" fill="#2a5c91"/>
<circle cx="469.40" cy="237.50" r="4.05" fill="#00a784"/>
<circle cx="436.90" cy="241.80" r="4.05" fill="#00918e"/>
<circle cx="423.30" cy="243.70" r="4.05" fill="#325490"/>
<circle cx="430.40" cy="250.20" r="4.05" fill="#00918e"/>
<circle cx="457.40" cy="250.20" r="4.05" fill="#00978c"/>
<circle cx="422.80" cy="263.40" r="4.05" fill="#00b777"/>
<circle cx="430.80" cy="263.90" r="4.05" fill="#00a784"/>
<circle cx="313.30" cy="301.70" r="4.05" fill="#00c660"/>
<circle cx="284.30" cy="326.00" r="4.05" fill="#00c85b"/>
<circle cx="362.80" cy="315.80" r="4.05" fill="#00b777"/>
<circle cx="370.50" cy="287.50" r="4.05" fill="#007d91"/>
<circle cx="382.70" cy="283.30" r="4.05" fill="#00c660"/>
<circle cx="392.10" cy="288.50" r="4.05" fill="#007d91"/>
<circle cx="395.00" cy="291.30" r="4.05" fill="#36d048"/>
<circle cx="399.40" cy="295.10" r="4.05" fill="#007891"/>
<circle cx="403.00" cy="299.80" r="4.05" fill="#00c267"/>
<circle cx="402.50" cy="311.50" r="4.05" fill="#00c660"/>
<circle cx="409.10" cy="311.50" r="4.05" fill="#00c85b"/>
<circle cx="400.60" cy="322.40" r="4.05" fill="#00b17c"/>
<circle cx="413.80" cy="323.80" r="4.05" fill="#00c85b"/>
<circle cx="430.40" cy="283.80" r="4.05" fill="#00b777"/>
<circle cx="430.80" cy="289.40" r="4.05" fill="#00a188"/>
<circle cx="430.40" cy="294.10" r="4.05" fill="#00978c"/>
<circle cx="456.70" cy="283.80" r="4.05" fill="#00b777"/>
<circle cx="453.00" cy="280.50" r="4.05" fill="#00978c"/>
<circle cx="420.50" cy="298.20" r="4.05" fill="#00b777"/>
<circle cx="426.60" cy="300.20" r="4.05" fill="#00b777"/>
<circle cx="442.10" cy="302.10" r="4.05" fill="#00c660"/>
<circle cx="449.90" cy="300.20" r="4.05" fill="#00c267"/>
<circle cx="458.60" cy="300.70" r="4.05" fill="#00978c"/>
<circle cx="462.40" cy="298.40" r="4.05" fill="#00a784"/>
<circle cx="435.50" cy="307.80" r="4.05" fill="#5ed52f"/>
<circle cx="450.60" cy="317.70" r="4.05" fill="#00978c"/>
<circle cx="461.40" cy="316.00" r="4.05" fill="#246091"/>
<circle cx="276.00" cy="350.10" r="4.05" fill="#008e8e"/>
<circle cx="321.80" cy="348.20" r="4.05" fill="#007891"/>
<circle cx="345.00" cy="343.50" r="4.05" fill="#00c660"/>
<circle cx="357.00" cy="343.50" r="4.05" fill="#00c660"/>
<circle cx="362.70" cy="340.30" r="4.05" fill="#00ad80"/>
<circle cx="430.30" cy="334.10" r="4.05" fill="#00c660"/>
<circle cx="446.30" cy="337.90" r="4.05" fill="#00b17c"/>
<circle cx="392.20" cy="367.80" r="4.05" fill="#006f91"/>
<circle cx="411.10" cy="361.80" r="4.05" fill="#00ad80"/>
<circle cx="430.30" cy="361.80" r="4.05" fill="#00ad80"/>
<circle cx="411.60" cy="385.50" r="4.05" fill="#00c85b"/>
<rect x="126.75" y="203.25" width="11.5" height="11.5" fill="#00c06b" stroke="#ff0000" stroke-width="2.6" stroke-linejoin="round"/>
<rect x="135.75" y="196.25" width="11.5" height="11.5" fill="#008b8f" stroke="#ff0000" stroke-width="2.6" stroke-linejoin="round"/>
<rect x="160.25" y="180.95" width="11.5" height="11.5" fill="#00ba73" stroke="#ff0000" stroke-width="2.6" stroke-linejoin="round"/>
<rect x="188.35" y="176.05" width="11.5" height="11.5" fill="#00b17d" stroke="#ff0000" stroke-width="2.6" stroke-linejoin="round"/>
<rect x="219.05" y="162.95" width="11.5" height="11.5" fill="#00ba73" stroke="#ff0000" stroke-width="2.6" stroke-linejoin="round"/>
</g>
<rect x="470.5" y="79.2" width="19.399999999999977" height="380.1" fill="url(#cb)"/>
<rect x="70.7" y="79.2" width="399.8" height="380.1" fill="none" stroke="#141414" stroke-width="1.35"/>
<rect x="470.5" y="79.2" width="19.399999999999977" height="380.1" fill="none" stroke="#141414" stroke-width="1.35"/>
<g stroke="#141414" stroke-width="1.35"><line x1="70.70" y1="459.3" x2="70.70" y2="465.8"/><line x1="101.45" y1="459.3" x2="101.45" y2="463.3"/><line x1="132.21" y1="459.3" x2="132.21" y2="465.8"/><line x1="162.96" y1="459.3" x2="162.96" y2="463.3"/><line x1="193.72" y1="459.3" x2="193.72" y2="465.8"/><line x1="224.47" y1="459.3" x2="224.47" y2="463.3"/><line x1="255.22" y1="459.3" x2="255.22" y2="465.8"/><line x1="285.98" y1="459.3" x2="285.98" y2="463.3"/><line x1="316.73" y1="459.3" x2="316.73" y2="465.8"/><line x1="347.48" y1="459.3" x2="347.48" y2="463.3"/><line x1="378.24" y1="459.3" x2="378.24" y2="465.8"/><line x1="408.99" y1="459.3" x2="408.99" y2="463.3"/><line x1="439.75" y1="459.3" x2="439.75" y2="465.8"/><line x1="470.50" y1="459.3" x2="470.50" y2="463.3"/><line x1="70.7" y1="459.30" x2="64.2" y2="459.30"/><line x1="70.7" y1="439.29" x2="66.7" y2="439.29"/><line x1="70.7" y1="419.29" x2="66.7" y2="419.29"/><line x1="70.7" y1="399.28" x2="66.7" y2="399.28"/><line x1="70.7" y1="379.28" x2="64.2" y2="379.28"/><line x1="70.7" y1="359.27" x2="66.7" y2="359.27"/><line x1="70.7" y1="339.27" x2="66.7" y2="339.27"/><line x1="70.7" y1="319.26" x2="66.7" y2="319.26"/><line x1="70.7" y1="299.26" x2="64.2" y2="299.26"/><line x1="70.7" y1="279.25" x2="66.7" y2="279.25"/><line x1="70.7" y1="259.25" x2="66.7" y2="259.25"/><line x1="70.7" y1="239.24" x2="66.7" y2="239.24"/><line x1="70.7" y1="219.24" x2="64.2" y2="219.24"/><line x1="70.7" y1="199.23" x2="66.7" y2="199.23"/><line x1="70.7" y1="179.23" x2="66.7" y2="179.23"/><line x1="70.7" y1="159.22" x2="66.7" y2="159.22"/><line x1="70.7" y1="139.22" x2="64.2" y2="139.22"/><line x1="70.7" y1="119.21" x2="66.7" y2="119.21"/><line x1="70.7" y1="99.21" x2="66.7" y2="99.21"/><line x1="70.7" y1="79.20" x2="66.7" y2="79.20"/><line x1="489.9" y1="459.30" x2="496.4" y2="459.30"/><line x1="489.9" y1="417.07" x2="496.4" y2="417.07"/><line x1="489.9" y1="374.83" x2="496.4" y2="374.83"/><line x1="489.9" y1="332.60" x2="496.4" y2="332.60"/><line x1="489.9" y1="290.37" x2="496.4" y2="290.37"/><line x1="489.9" y1="248.13" x2="496.4" y2="248.13"/><line x1="489.9" y1="205.90" x2="496.4" y2="205.90"/><line x1="489.9" y1="163.67" x2="496.4" y2="163.67"/><line x1="489.9" y1="121.43" x2="496.4" y2="121.43"/><line x1="489.9" y1="79.20" x2="496.4" y2="79.20"/></g>
<text x="57.83" y="485.80" font-size="17.00" textLength="25.37" lengthAdjust="spacingAndGlyphs" >0.2</text>
<text x="119.33" y="485.80" font-size="17.00" textLength="25.74" lengthAdjust="spacingAndGlyphs" >0.4</text>
<text x="180.83" y="485.80" font-size="17.00" textLength="25.90" lengthAdjust="spacingAndGlyphs" >0.6</text>
<text x="242.34" y="485.80" font-size="17.00" textLength="25.80" lengthAdjust="spacingAndGlyphs" >0.8</text>
<text x="303.90" y="485.80" font-size="17.00" textLength="25.70" lengthAdjust="spacingAndGlyphs" >1.0</text>
<text x="365.43" y="485.80" font-size="17.00" textLength="25.31" lengthAdjust="spacingAndGlyphs" >1.2</text>
<text x="426.92" y="485.80" font-size="17.00" textLength="25.69" lengthAdjust="spacingAndGlyphs" >1.4</text>
<text x="47.06" y="466.00" font-size="17.00" textLength="9.88" lengthAdjust="spacingAndGlyphs" >8</text>
<text x="36.53" y="385.98" font-size="17.00" textLength="20.38" lengthAdjust="spacingAndGlyphs" >10</text>
<text x="36.55" y="305.96" font-size="17.00" textLength="19.98" lengthAdjust="spacingAndGlyphs" >12</text>
<text x="36.53" y="225.94" font-size="17.00" textLength="20.37" lengthAdjust="spacingAndGlyphs" >14</text>
<text x="36.52" y="145.92" font-size="17.00" textLength="20.55" lengthAdjust="spacingAndGlyphs" >16</text>
<text x="501.48" y="466.00" font-size="17.00" textLength="41.77" lengthAdjust="spacingAndGlyphs" >2500</text>
<text x="501.76" y="423.77" font-size="17.00" textLength="41.48" lengthAdjust="spacingAndGlyphs" >3000</text>
<text x="501.76" y="381.53" font-size="17.00" textLength="41.48" lengthAdjust="spacingAndGlyphs" >3500</text>
<text x="501.58" y="339.30" font-size="17.00" textLength="41.66" lengthAdjust="spacingAndGlyphs" >4000</text>
<text x="501.58" y="297.07" font-size="17.00" textLength="41.66" lengthAdjust="spacingAndGlyphs" >4500</text>
<text x="501.74" y="254.83" font-size="17.00" textLength="41.50" lengthAdjust="spacingAndGlyphs" >5000</text>
<text x="501.74" y="212.60" font-size="17.00" textLength="41.50" lengthAdjust="spacingAndGlyphs" >5500</text>
<text x="501.41" y="170.37" font-size="17.00" textLength="41.84" lengthAdjust="spacingAndGlyphs" >6000</text>
<text x="501.41" y="128.13" font-size="17.00" textLength="41.84" lengthAdjust="spacingAndGlyphs" >6500</text>
<text x="501.61" y="85.90" font-size="17.00" textLength="41.63" lengthAdjust="spacingAndGlyphs" >7000</text>
<g transform="translate(24.5,344.84) rotate(-90)"><text x="0.10" y="0.00" font-size="17.00" textLength="148.99" lengthAdjust="spacingAndGlyphs" >Kepler Magnitude</text></g>
<g transform="translate(584.4,410.6) rotate(-90)"><text x="0.24" y="0.00" font-size="17.00" textLength="279.00" lengthAdjust="spacingAndGlyphs" >Stellar Effective Temperature [K]</text></g>
<text x="230.03" y="510.70" font-size="17.00" textLength="11.51" lengthAdjust="spacingAndGlyphs" >R</text>
<text x="240.64" y="512.40" font-size="11.90" textLength="7.06" lengthAdjust="spacingAndGlyphs" >p</text>
<text x="254.49" y="510.70" font-size="17.00" textLength="4.82" lengthAdjust="spacingAndGlyphs" >[</text>
<text x="260.48" y="510.70" font-size="17.00" textLength="11.51" lengthAdjust="spacingAndGlyphs" >R</text>
<text x="272.47" y="513.70" font-size="11.90" textLength="31.53" lengthAdjust="spacingAndGlyphs" >earth</text>
<text x="306.68" y="510.70" font-size="17.00" textLength="4.82" lengthAdjust="spacingAndGlyphs" >]</text>
<rect x="64.5" y="11.7" width="432" height="57.6" rx="3.2" ry="3.2" fill="#ffffff" fill-opacity="0.8" stroke="#cccccc" stroke-width="1.1"/>
<rect x="85.10" y="24.70" width="7.2" height="7.2" fill="#00b876"/>
<circle cx="88.45" cy="53.30" r="4.05" fill="#008890"/>
<rect x="368.10" y="22.70" width="11.2" height="11.2" fill="none" stroke="#ff0000" stroke-width="3.8" stroke-linejoin="round"/>
<text x="118.82" y="32.70" font-size="17.00" textLength="158.17" lengthAdjust="spacingAndGlyphs" >Kepler Discoveries</text>
<text x="118.84" y="57.30" font-size="17.00" textLength="201.46" lengthAdjust="spacingAndGlyphs" >Other Discovery Facility</text>
<text x="404.10" y="32.70" font-size="17.00" textLength="84.76" lengthAdjust="spacingAndGlyphs" >New USPs</text>
</svg></body></html>
